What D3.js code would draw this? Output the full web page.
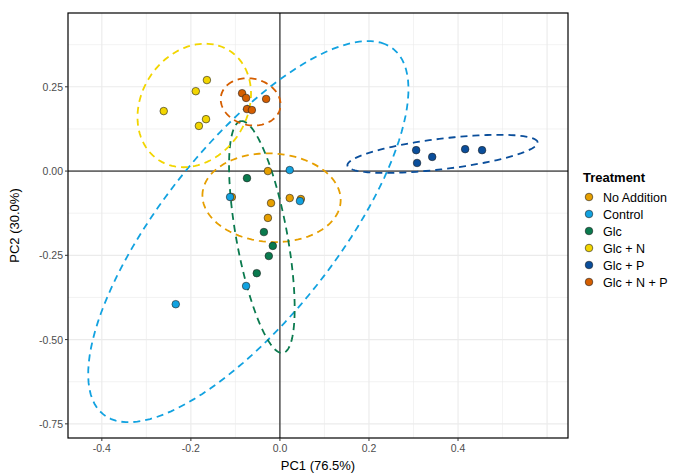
<!DOCTYPE html>
<html><head><meta charset="utf-8">
<script src="https://cdn.jsdelivr.net/npm/d3@7"></script>
<style>body{margin:0;background:#fff;font-family:Arial,"Liberation Sans",sans-serif}</style>
</head><body><svg id="c" width="692" height="473"></svg>
<script>
var groups = ["No Addition", "Control", "Glc", "Glc + N", "Glc + P", "Glc + N + P"];
var colors = ["#E69F00", "#12A2E0", "#0A7A4E", "#F2D500", "#0A4E9B", "#D55E00"];
var pc1 = [
  [-0.027, -0.020, 0.022, 0.047, -0.027, -0.108],
  [0.022, 0.045, -0.112, -0.076, -0.234],
  [-0.074, -0.036, -0.016, -0.025, -0.052],
  [-0.261, -0.189, -0.164, -0.166, -0.182],
  [0.306, 0.308, 0.342, 0.416, 0.454],
  [-0.085, -0.076, -0.074, -0.063, -0.031]
];
var pc2 = [
  [0.000, -0.095, -0.080, -0.083, -0.139, -0.077],
  [0.003, -0.089, -0.077, -0.341, -0.395],
  [-0.021, -0.181, -0.222, -0.252, -0.303],
  [0.178, 0.237, 0.270, 0.154, 0.134],
  [0.062, 0.024, 0.042, 0.065, 0.062],
  [0.231, 0.217, 0.184, 0.181, 0.214]
];
// F(0.95, 2, n-1) quantiles as used by stat_ellipse
var fq = {4: 6.944, 5: 5.786};
var shrink = 0.86; // robust (t) covariance comes out a bit tighter
var xTicks = [-0.4, -0.2, 0.0, 0.2, 0.4];
var yTicks = [0.25, 0.00, -0.25, -0.50, -0.75];

var svg = d3.select("#c");
var L = 68, R = 568, T = 13, B = 438;
var x = d3.scaleLinear().domain([-0.476, 0.647]).range([L, R]);
var y = d3.scaleLinear().domain([0.469, -0.792]).range([T, B]);

var grid = svg.append("g");
d3.range(-0.5, 0.7, 0.1).forEach(function(v) {
  if (x(v) > L && x(v) < R) grid.append("line").attr("x1", x(v)).attr("x2", x(v)).attr("y1", T).attr("y2", B)
    .attr("stroke", "#ebebeb").attr("stroke-width", Math.abs(Math.round(v * 10)) % 2 ? 0.6 : 1.1);
});
d3.range(-0.875, 0.5, 0.125).forEach(function(v) {
  if (y(v) > T && y(v) < B) grid.append("line").attr("y1", y(v)).attr("y2", y(v)).attr("x1", L).attr("x2", R)
    .attr("stroke", "#ebebeb").attr("stroke-width", Math.abs(Math.round(v * 8)) % 2 ? 0.6 : 1.1);
});
svg.append("line").attr("x1", x(0)).attr("x2", x(0)).attr("y1", T).attr("y2", B).attr("stroke", "#000");
svg.append("line").attr("y1", y(0)).attr("y2", y(0)).attr("x1", L).attr("x2", R).attr("stroke", "#000");

function ellipse(xs, ys) {
  var n = xs.length, mx = d3.mean(xs), my = d3.mean(ys);
  var sxx = 0, syy = 0, sxy = 0;
  for (var i = 0; i < n; i++) {
    sxx += (xs[i] - mx) * (xs[i] - mx); syy += (ys[i] - my) * (ys[i] - my); sxy += (xs[i] - mx) * (ys[i] - my);
  }
  sxx /= n - 1; syy /= n - 1; sxy /= n - 1;
  var tr = (sxx + syy) / 2, d = Math.sqrt(((sxx - syy) / 2) ** 2 + sxy * sxy);
  var l1 = tr + d, l2 = Math.max(tr - d, 0), th = Math.atan2(l1 - sxx, sxy || 1e-12);
  if (Math.abs(sxy) < 1e-12) th = sxx >= syy ? 0 : Math.PI / 2;
  var r = Math.sqrt(2 * fq[n - 1]) * shrink;
  return d3.range(0, 2 * Math.PI + 0.01, Math.PI / 60).map(function(t) {
    var a = r * Math.sqrt(l1) * Math.cos(t), b = r * Math.sqrt(l2) * Math.sin(t);
    return [x(mx + a * Math.cos(th) - b * Math.sin(th)), y(my + a * Math.sin(th) + b * Math.cos(th))];
  });
}
svg.append("clipPath").attr("id", "cp").append("rect").attr("x", L).attr("y", T).attr("width", R - L).attr("height", B - T);
var eg = svg.append("g").attr("clip-path", "url(#cp)");
groups.forEach(function(g, i) {
  eg.append("path").attr("d", d3.line()(ellipse(pc1[i], pc2[i]))).attr("fill", "none")
    .attr("stroke", colors[i]).attr("stroke-width", 1.8).attr("stroke-dasharray", "7,5");
});
groups.forEach(function(g, i) {
  pc1[i].forEach(function(v, j) {
    svg.append("circle").attr("cx", x(v)).attr("cy", y(pc2[i][j])).attr("r", 3.8)
      .attr("fill", colors[i]).attr("stroke", "#222").attr("stroke-width", 0.6);
  });
});
svg.append("rect").attr("x", L).attr("y", T).attr("width", R - L).attr("height", B - T)
  .attr("fill", "none").attr("stroke", "#000").attr("stroke-width", 1.2);

xTicks.forEach(function(v) {
  svg.append("line").attr("x1", x(v)).attr("x2", x(v)).attr("y1", B).attr("y2", B + 3).attr("stroke", "#333");
  svg.append("text").attr("x", x(v)).attr("y", B + 14).attr("text-anchor", "middle").attr("font-size", 10.5).attr("fill", "#4d4d4d").text(v.toFixed(1));
});
yTicks.forEach(function(v) {
  svg.append("line").attr("x1", L - 3).attr("x2", L).attr("y1", y(v)).attr("y2", y(v)).attr("stroke", "#333");
  svg.append("text").attr("x", L - 5).attr("y", y(v) + 4).attr("text-anchor", "end").attr("font-size", 10.5).attr("fill", "#4d4d4d").text(v.toFixed(2));
});
svg.append("text").attr("x", (L + R) / 2).attr("y", 470).attr("text-anchor", "middle").attr("font-size", 13).text("PC1 (76.5%)");
svg.append("text").attr("transform", "translate(19," + (T + B) / 2 + ") rotate(-90)").attr("text-anchor", "middle").attr("font-size", 13).text("PC2 (30.0%)");

var lg = svg.append("g").attr("transform", "translate(583,0)");
lg.append("text").attr("x", 0).attr("y", 182).attr("font-size", 13).attr("font-weight", "bold").text("Treatment");
groups.forEach(function(g, i) {
  var yy = 197 + i * 17;
  lg.append("circle").attr("cx", 6).attr("cy", yy).attr("r", 3.8).attr("fill", colors[i]).attr("stroke", "#222").attr("stroke-width", 0.6);
  lg.append("text").attr("x", 20).attr("y", yy + 4.5).attr("font-size", 12.5).text(g);
});
</script></body></html>
